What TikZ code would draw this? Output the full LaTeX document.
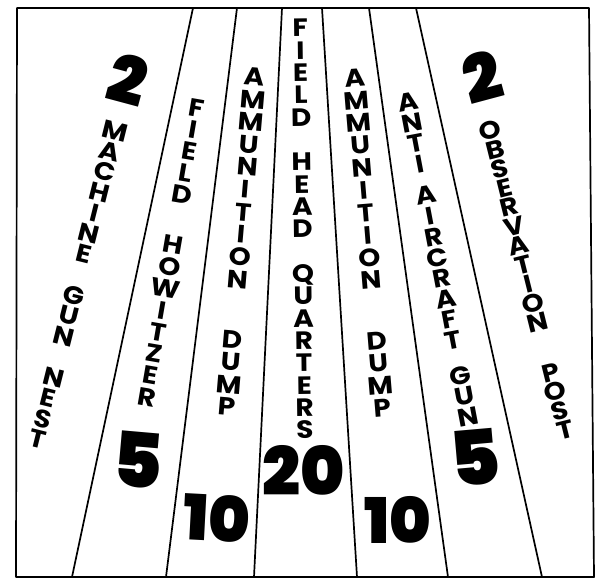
\documentclass[tikz,border=0pt]{standalone}
\usepackage{fontspec}
\setmainfont{Poppins}
\newfontfamily\numfont{Poppins Black}
\newfontfamily\letfont{Poppins Bold}[FakeStretch=1.12]
\begin{document}
\begin{tikzpicture}[x=1pt,y=-1pt,
  rule/.style={line width=1.7pt,line cap=round,line join=round},
  lbl/.style={inner sep=0pt,align=center,font=\letfont\fontsize{25}{#1}\selectfont},
  num/.style={inner sep=0pt,font=\numfont\fontsize{#1}{#1}\selectfont}]
\useasboundingbox (0,0) rectangle (599,579);
% frame
\coordinate (tl) at (17,8);
\coordinate (tr) at (589,8);
\coordinate (br) at (594,577);
\coordinate (bl) at (16,577);
\draw[rule] (tl) -- (tr) -- (br) -- (bl) -- cycle;
% strip lines
\coordinate (a1) at (193,8);  \coordinate (b1) at (72,577);
\coordinate (a2) at (237,8);  \coordinate (b2) at (166,577);
\coordinate (a3) at (282,8);  \coordinate (b3) at (254,577);
\coordinate (a4) at (322,8);  \coordinate (b4) at (357,577);
\coordinate (a5) at (369,8);  \coordinate (b5) at (448,577);
\coordinate (a6) at (416,8);  \coordinate (b6) at (542,577);
\foreach \i in {1,...,6} \draw[rule] (a\i) -- (b\i);
% labels
\node[lbl=21.2,rotate=-14] (mgn) at (76.5,285)
  {M\\A\\C\\H\\I\\N\\E\\\mbox{}\\G\\U\\N\\\mbox{}\\N\\E\\S\\T};
\node[lbl=22.07,rotate=-9.8] (fh) at (172,252.5)
  {F\\I\\E\\L\\D\\[28.6pt]H\\O\\W\\I\\T\\Z\\E\\R};
\node[lbl=22.58,rotate=-4.85] (ad1) at (241,242)
  {A\\M\\M\\U\\N\\I\\T\\I\\O\\N\\[37.6pt]D\\U\\M\\P};
\node[lbl=22.33,rotate=0.7] (fhq) at (302.5,229)
  {F\\I\\E\\L\\D\\\mbox{}\\H\\E\\A\\D\\\mbox{}\\Q\\U\\A\\R\\T\\E\\R\\S};
\node[lbl=22.5,rotate=4.68] (ad2) at (368.5,243)
  {A\\M\\M\\U\\N\\I\\T\\I\\O\\N\\[38.5pt]D\\U\\M\\P};
\node[lbl=21.1,rotate=10.8] (aag) at (438,259.5)
  {A\\N\\T\\I\\[10.5pt]A\\I\\R\\C\\R\\A\\F\\T\\[14.5pt]G\\U\\N};
\node[lbl=19.8,rotate=14] (op) at (527.5,280)
  {O\\B\\S\\E\\R\\V\\A\\T\\I\\O\\N\\[32pt]P\\O\\S\\T};
% numbers
\node[num=66,rotate=-15] (n2a) at (128,80) {2};
\node[num=66,rotate=15] (n2b) at (482,77) {2};
\node[num=76,rotate=-5] (n5a) at (138,460) {5};
\node[num=76,rotate=5] (n5b) at (475,458) {5};
\node[num=67] (n20) at (304,470) {20};
\node[num=63,rotate=-3] (n10a) at (217,518) {10};
\node[num=63] (n10b) at (398,520) {10};
\end{tikzpicture}
\end{document}
